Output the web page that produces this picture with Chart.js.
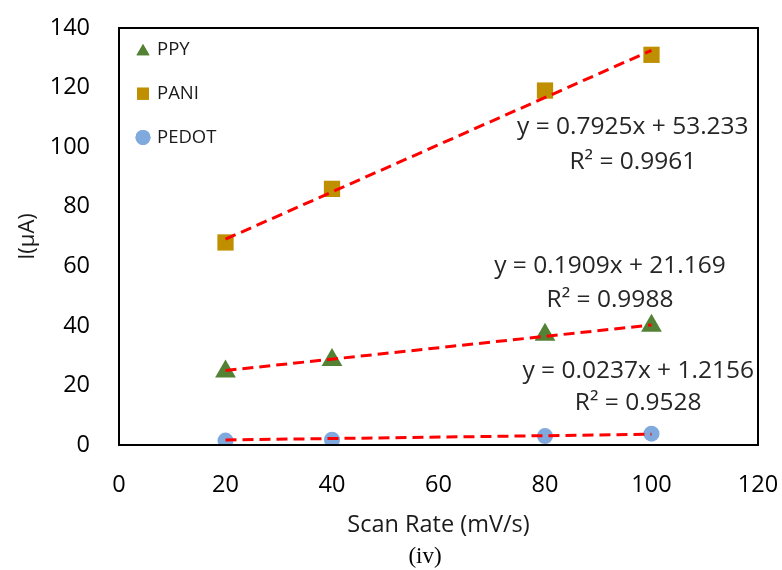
<!DOCTYPE html>
<html lang="en">
<head>
  <meta charset="UTF-8" />
  <title>Scan Rate vs Current</title>
  <script src="https://cdn.jsdelivr.net/npm/chart.js"></script>
  <style>
    body { margin: 0; padding: 0; background: #ffffff; }
    #wrap { width: 782px; height: 570px; }
  </style>
</head>
<body>
  <div id="wrap"><canvas id="chart"></canvas></div>
  <script>
    // data
    const scanRates = [20, 40, 80, 100];
    const ppy = [24.7, 28.5, 37.0, 40.0];
    const pani = [68.0, 86.0, 119.0, 131.0];
    const pedot = [1.5, 1.8, 3.0, 3.8];

    // trend line end points (x = 20 and x = 100)
    const trendX = [20, 100];
    const ppyTrend = [25.0, 40.3];
    const paniTrend = [69.1, 132.5];
    const pedotTrend = [1.7, 3.6];

    const eqTexts = ["y = 0.1909x + 21.169", "y = 0.7925x + 53.233", "y = 0.0237x + 1.2156"];
    const r2Texts = ["R² = 0.9988", "R² = 0.9961", "R² = 0.9528"];
    // label anchors in data units: [x, y of equation, y of R²]
    const labelAnchors = [[92.2, 60.1, 48.7], [96.5, 106.7, 95.0], [97.5, 24.8, 14.1]];

    const xTicks = [0, 20, 40, 60, 80, 100, 120];
    const yTicks = [0, 20, 40, 60, 80, 100, 120, 140];

    const seriesNames = ["PPY", "PANI", "PEDOT"];
    const colors = ["#548235", "#BF8F00", "#80AADD"];
    const styles = ["triangle", "rect", "circle"];
    const radii = [12, 11.5, 8];

    const pts = (ys) => scanRates.map((x, i) => ({ x, y: ys[i] }));
    const line = (ys) => trendX.map((x, i) => ({ x, y: ys[i] }));

    const trendSet = (ys) => ({
      type: "line", data: line(ys), borderColor: "#FF0000", borderWidth: 3,
      borderDash: [11, 6], pointRadius: 0, showLine: true, fill: false, order: 0
    });
    const markSet = (k, ys) => ({
      label: seriesNames[k], data: pts(ys), backgroundColor: colors[k], borderColor: colors[k],
      borderWidth: 0, pointStyle: styles[k], pointRadius: radii[k], order: 1
    });

    const font = "Open Sans";

    // let labels overflow the plot box instead of shrinking it
    const noPad = (s) => { s.paddingLeft = s.paddingRight = s.paddingTop = s.paddingBottom = 0; };

    const frame = {
      id: "frame",
      afterDatasetsDraw(chart) {
        const { ctx, chartArea: a, scales: { x, y } } = chart;
        ctx.save();
        ctx.strokeStyle = "#000";
        ctx.lineWidth = 2;
        ctx.strokeRect(a.left, a.top, a.right - a.left, a.bottom - a.top);

        // equations
        ctx.fillStyle = "#262626";
        ctx.font = `24.5px ${font}`;
        ctx.textAlign = "center";
        ctx.textBaseline = "middle";
        labelAnchors.forEach((an, i) => {
          ctx.fillText(eqTexts[i], x.getPixelForValue(an[0]), y.getPixelForValue(an[1]));
          ctx.fillText(r2Texts[i], x.getPixelForValue(an[0]), y.getPixelForValue(an[2]));
        });

        // legend inside the plot area
        ctx.font = `18.5px ${font}`;
        ctx.textAlign = "left";
        const legR = [7.5, 8.5, 7.5];
        seriesNames.forEach((name, i) => {
          const cy = a.top + 22 + i * 43.7;
          ctx.fillStyle = colors[i];
          ctx.strokeStyle = colors[i];
          Chart.helpers.drawPoint(ctx, { pointStyle: styles[i], radius: legR[i], borderWidth: 0 }, a.left + 24, cy + (i === 0 ? 1.5 : 0));
          ctx.fill();
          ctx.fillStyle = "#1a1a1a";
          ctx.fillText(name, a.left + 38, cy);
        });

        // panel caption
        ctx.fillStyle = "#000";
        ctx.font = `23px "Liberation Serif"`;
        ctx.textAlign = "center";
        ctx.fillText("(iv)", a.left + 306, chart.height - 13);
        ctx.restore();
      }
    };

    new Chart(document.getElementById("chart"), {
      type: "scatter",
      data: {
        datasets: [
          trendSet(ppyTrend), trendSet(paniTrend), trendSet(pedotTrend),
          markSet(0, ppy), markSet(1, pani), markSet(2, pedot)
        ]
      },
      options: {
        responsive: true,
        maintainAspectRatio: false,
        animation: false,
        layout: { padding: { top: 28, right: 24, bottom: 26.4, left: 0 } },
        plugins: {
          legend: { display: false },
          tooltip: { enabled: false },
          title: { display: false }
        },
        scales: {
          x: {
            type: "linear", min: 0, max: 120,
            afterBuildTicks: (s) => { s.ticks = xTicks.map(v => ({ value: v })); },
            afterFit: (s) => { s.height = 98.6; noPad(s); },
            grid: { display: false, drawTicks: false },
            border: { display: false },
            ticks: { color: "#000", padding: 26, font: { family: font, size: 23.5 } },
            title: { display: true, text: "Scan Rate (mV/s)", color: "#1a1a1a",
              font: { family: font, size: 23.5 }, padding: { top: 0, bottom: 4 } }
          },
          y: {
            type: "linear", min: 0, max: 140,
            afterBuildTicks: (s) => { s.ticks = yTicks.map(v => ({ value: v })); },
            afterFit: (s) => { s.width = 119; noPad(s); },
            grid: { display: false, drawTicks: false },
            border: { display: false },
            ticks: { color: "#000", padding: 29, font: { family: font, size: 23.5 } },
            title: { display: true, text: "I(µA)", color: "#1a1a1a",
              font: { family: font, size: 22 }, padding: { top: 15, bottom: 0 } }
          }
        }
      },
      plugins: [frame]
    });
  </script>
</body>
</html>
